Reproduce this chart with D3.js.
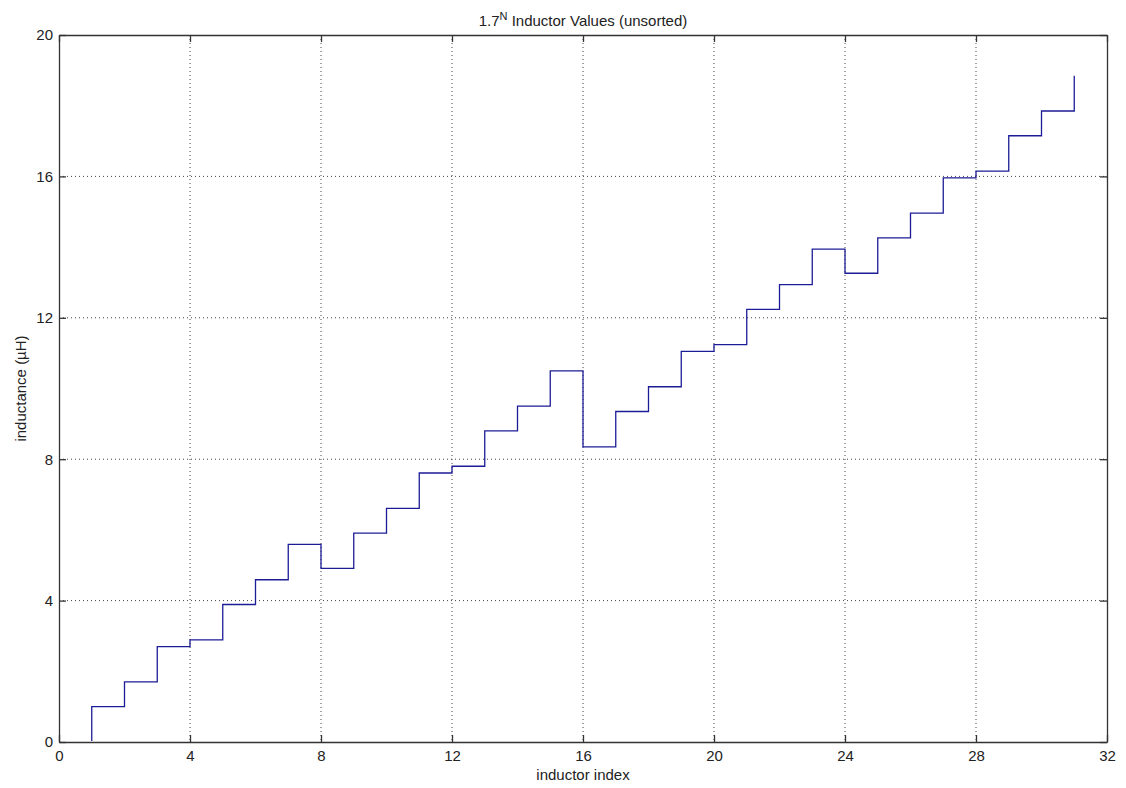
<!DOCTYPE html>
<html>
<head>
<meta charset="utf-8">
<script src="https://cdn.jsdelivr.net/npm/d3@7"></script>
<style>
  body { margin: 0; background: #fff; }
  text { font-family: "Liberation Sans", Arial, sans-serif; fill: #222; }
</style>
</head>
<body>
<svg id="chart" width="1126" height="788"></svg>
<script>
  // inductor index 0..31 and the read-off inductance (uH)
  const indices = d3.range(0, 32);
  const inductance = [
    0, 1.0, 1.7, 2.7, 2.89, 3.89, 4.59, 5.59,
    4.91, 5.91, 6.61, 7.61, 7.8, 8.8, 9.5, 10.5,
    8.35, 9.35, 10.05, 11.05, 11.24, 12.24, 12.94, 13.94,
    13.26, 14.26, 14.96, 15.96, 16.15, 17.15, 17.85, 18.85
  ];
  const xTicks = [0, 4, 8, 12, 16, 20, 24, 28, 32];
  const yTicks = [0, 4, 8, 12, 16, 20];

  const margin = { top: 35, right: 19, bottom: 46, left: 59 };
  const width = 1126 - margin.left - margin.right;
  const height = 788 - margin.top - margin.bottom;

  const svg = d3.select('#chart');
  const g = svg.append('g')
    .attr('transform', 'translate(' + margin.left + ',' + margin.top + ')');

  // keep the stairs off the bottom axis line
  svg.append('defs').append('clipPath').attr('id', 'plotclip')
    .append('rect').attr('x', 0).attr('y', 0)
    .attr('width', width).attr('height', height - 1);

  const x = d3.scaleLinear().domain([0, 32]).range([0, width]);
  const y = d3.scaleLinear().domain([0, 20]).range([height, 0]);

  // dotted grid
  g.append('g').selectAll('line')
    .data(xTicks.slice(1, -1))
    .enter().append('line')
    .attr('x1', d => x(d)).attr('x2', d => x(d))
    .attr('y1', 0).attr('y2', height)
    .attr('stroke', '#444').attr('stroke-width', 1)
    .attr('stroke-dasharray', '1,3');
  g.append('g').selectAll('line')
    .data(yTicks.slice(1, -1))
    .enter().append('line')
    .attr('y1', d => y(d)).attr('y2', d => y(d))
    .attr('x1', 0).attr('x2', width)
    .attr('stroke', '#444').attr('stroke-width', 1)
    .attr('stroke-dasharray', '1,3');

  // stairs line
  const line = d3.line()
    .x((d, i) => x(indices[i]))
    .y(d => y(d))
    .curve(d3.curveStepAfter);
  g.append('path')
    .datum(inductance)
    .attr('d', line)
    .attr('clip-path', 'url(#plotclip)')
    .attr('fill', 'none')
    .attr('stroke', '#1c1c96')
    .attr('stroke-width', 1.3);

  // axes with inward ticks on all four sides
  const tl = 7;
  const axBottom = g.append('g').attr('transform', 'translate(0,' + height + ')')
    .call(d3.axisBottom(x).tickValues(xTicks).tickSizeInner(-tl).tickSizeOuter(0).tickPadding(8));
  const axTop = g.append('g')
    .call(d3.axisTop(x).tickValues(xTicks).tickSizeInner(-tl).tickSizeOuter(0).tickFormat(''));
  const axLeft = g.append('g')
    .call(d3.axisLeft(y).tickValues(yTicks).tickSizeInner(-tl).tickSizeOuter(0).tickPadding(6));
  const axRight = g.append('g').attr('transform', 'translate(' + width + ',0)')
    .call(d3.axisRight(y).tickValues(yTicks).tickSizeInner(-tl).tickSizeOuter(0).tickFormat(''));

  [axBottom, axTop, axLeft, axRight].forEach(a => {
    a.selectAll('path, line').attr('stroke', '#333').attr('stroke-width', 1.3);
    a.selectAll('text').style('font-size', '15px').attr('fill', '#222')
      .style('font-family', '"Liberation Sans", Arial, sans-serif');
  });

  // title
  const title = svg.append('text')
    .attr('x', margin.left + width / 2)
    .attr('y', 26)
    .attr('text-anchor', 'middle')
    .style('font-size', '15px');
  title.append('tspan').text('1.7');
  title.append('tspan').attr('dy', -6).style('font-size', '11px').text('N');
  title.append('tspan').attr('dy', 6).text(' Inductor Values (unsorted)');

  // axis labels
  svg.append('text')
    .attr('x', margin.left + width / 2)
    .attr('y', 780)
    .attr('text-anchor', 'middle')
    .style('font-size', '15px')
    .text('inductor index');

  svg.append('text')
    .attr('transform', 'translate(26,' + (margin.top + height / 2) + ') rotate(-90)')
    .attr('text-anchor', 'middle')
    .style('font-size', '15px')
    .text('inductance (\u00b5H)');
</script>
</body>
</html>
